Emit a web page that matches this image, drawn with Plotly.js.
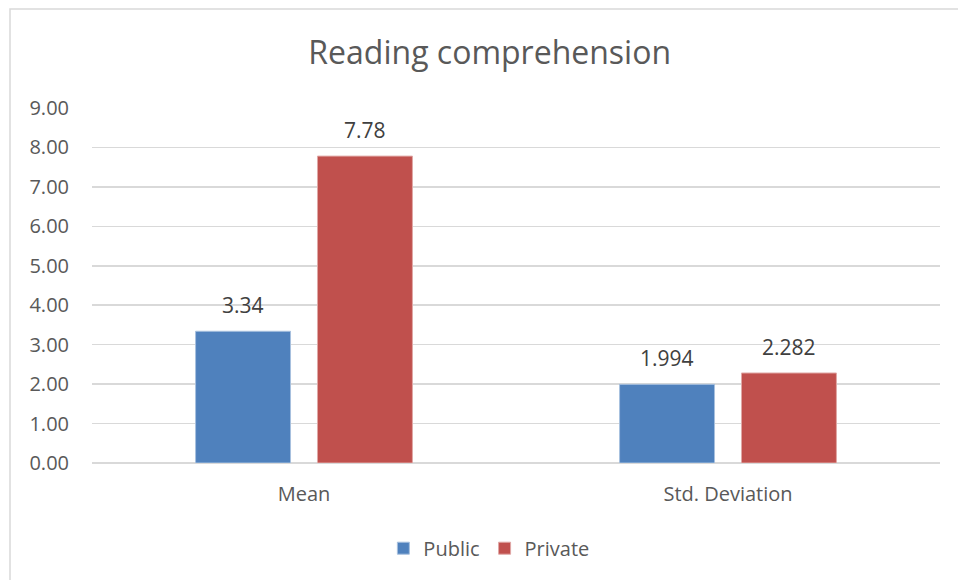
<!DOCTYPE html>
<html>
<head>
<meta charset="utf-8">
<script src="https://cdn.plot.ly/plotly-3.0.1.min.js"></script>
<style>
  html, body { margin: 0; padding: 0; background: #fff; }
  #chart { width: 958px; height: 580px; }
</style>
</head>
<body>
<div id="chart"></div>
<script>
// Reading comprehension scores by school type
const categories = ["Mean", "Std. Deviation"];
const publicValues = [3.34, 1.994];
const privateValues = [7.78, 2.282];
const publicLabels = ["3.34", "1.994"];
const privateLabels = ["7.78", "2.282"];
const seriesNames = ["Public", "Private"];
const yTicks = [0, 1, 2, 3, 4, 5, 6, 7, 8, 9];

const FONT = "Open Sans, Noto Sans, sans-serif";
const GRID = "#d9d9d9";

const traces = [
  {
    type: "bar", name: seriesNames[0], x: categories, y: publicValues,
    marker: { color: "#4f81bd", line: { color: "#a7c0de", width: 1 } },
    hoverinfo: "none"
  },
  {
    type: "bar", name: seriesNames[1], x: categories, y: privateValues,
    marker: { color: "#c0504d", line: { color: "#e0a8a6", width: 1 } },
    hoverinfo: "none"
  }
];

// value labels above each bar
const labelFont = { family: FONT, size: 21, color: "#404040" };
const annotations = [];
categories.forEach((c, i) => {
  annotations.push({
    x: c, y: publicValues[i], xref: "x", yref: "y", text: publicLabels[i],
    showarrow: false, yanchor: "bottom", xshift: -61, yshift: 10, font: labelFont
  });
  annotations.push({
    x: c, y: privateValues[i], xref: "x", yref: "y", text: privateLabels[i],
    showarrow: false, yanchor: "bottom", xshift: 61, yshift: 10, font: labelFont
  });
});

const layout = {
  width: 958, height: 580,
  margin: { l: 92, r: 18, t: 108, b: 117 },
  paper_bgcolor: "#fff", plot_bgcolor: "#fff",
  font: { family: FONT, color: "#595959" },
  title: {
    text: "Reading comprehension",
    font: { family: FONT, size: 32, color: "#595959" },
    x: 0.469, xanchor: "center", xref: "paper",
    y: 0.909, yanchor: "middle", yref: "container"
  },
  barmode: "group",
  bargap: 0.425,
  bargroupgap: 0.221,
  xaxis: {
    showgrid: false, zeroline: false, showline: false,
    ticks: "outside", ticklen: 13, tickcolor: "rgba(0,0,0,0)",
    tickfont: { family: FONT, size: 20, color: "#595959" },
    fixedrange: true
  },
  yaxis: {
    range: [0, 9], tickvals: yTicks, tickformat: ".2f",
    showgrid: true, gridcolor: GRID, gridwidth: 1.5,
    zeroline: true, zerolinecolor: GRID, zerolinewidth: 1.5,
    showline: false, ticks: "outside", ticklen: 18, tickcolor: "rgba(0,0,0,0)",
    tickfont: { family: FONT, size: 20, color: "#595959" },
    fixedrange: true
  },
  showlegend: true,
  legend: {
    orientation: "h", x: 0.468, xanchor: "center", y: -0.24, yanchor: "middle",
    font: { family: FONT, size: 20, color: "#595959" },
    itemwidth: 30, traceorder: "normal"
  },
  annotations: annotations,
  shapes: [{
    type: "rect", xref: "paper", yref: "paper",
    x0: -0.0967, x1: 1.2, y0: -0.5, y1: 1.2789,
    line: { color: GRID, width: 1.5 }, fillcolor: "rgba(0,0,0,0)", layer: "below"
  }]
};

Plotly.newPlot("chart", traces, layout, { displayModeBar: false, staticPlot: true });
</script>
</body>
</html>
